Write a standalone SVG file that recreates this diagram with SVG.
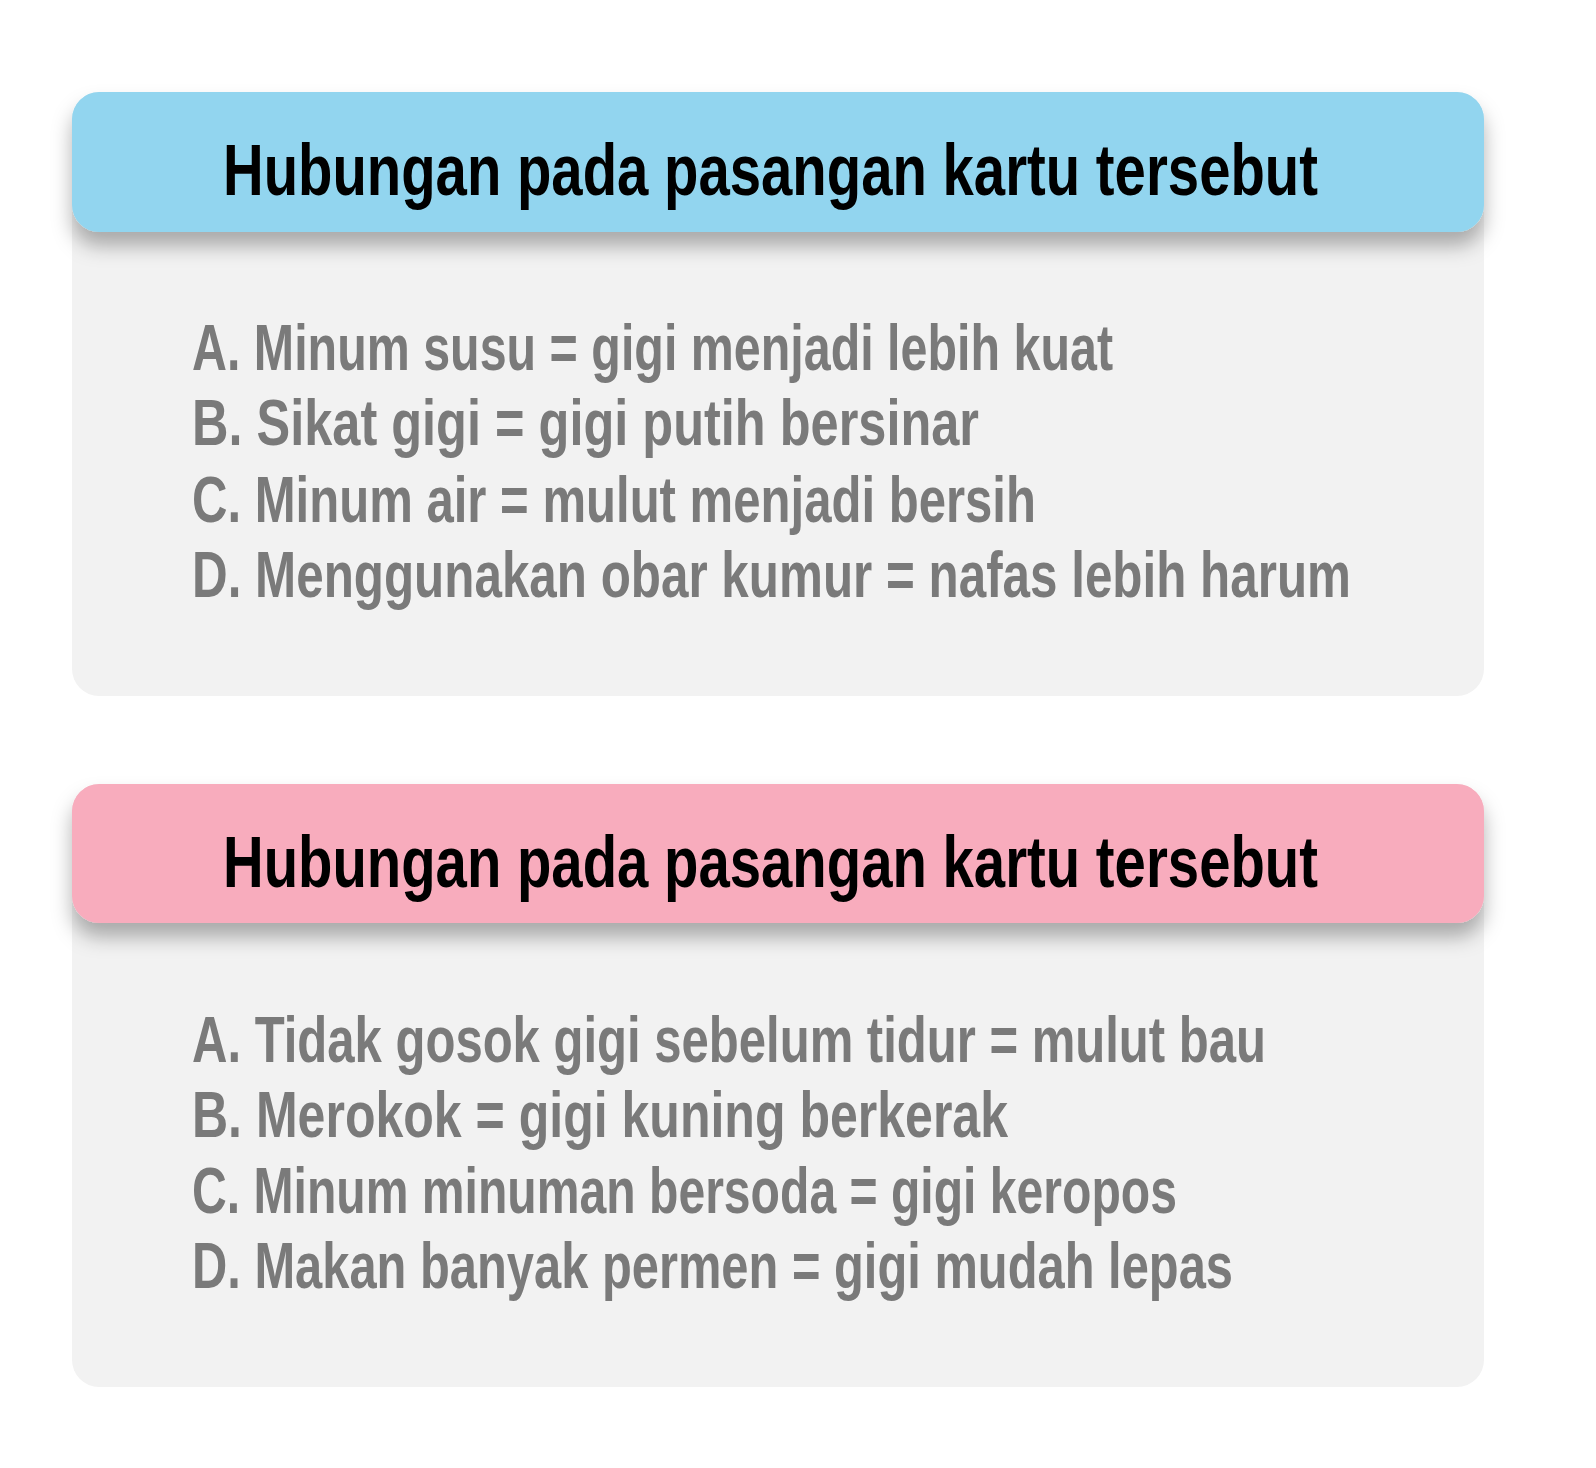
<svg xmlns="http://www.w3.org/2000/svg" width="1596" height="1468" viewBox="0 0 1596 1468">
  <defs>
    <filter id="shadow" x="-5%" y="-20%" width="110%" height="170%">
      <feDropShadow dx="0" dy="14" stdDeviation="10" flood-color="#000000" flood-opacity="0.3"/>
    </filter>
  </defs>
  <style>
    .card { fill: #F2F2F2; }
    .head-blue { fill: #92D5EF; }
    .head-pink { fill: #F8ACBD; }
    .title { font-family: "Liberation Sans", Arial, sans-serif; font-weight: bold; font-size: 72px; fill: #000000; }
    .item { font-family: "Liberation Sans", Arial, sans-serif; font-weight: bold; font-size: 65px; fill: #7A7A7A; }
  </style>
  <rect width="1596" height="1468" fill="#FFFFFF"/>

  <g id="card1">
    <rect class="card" x="72" y="92" width="1412" height="604" rx="27" ry="27"/>
    <rect class="head-blue" x="72" y="92" width="1412" height="140" rx="27" ry="27" filter="url(#shadow)"/>
    <g transform="scale(0.8,1)">
      <text class="title" x="278.75" y="195" textLength="1368.75" lengthAdjust="spacingAndGlyphs">Hubungan pada pasangan kartu tersebut</text>
    </g>
    <g transform="scale(0.78,1)">
      <text class="item" x="246.15" y="370" textLength="1180.8" lengthAdjust="spacingAndGlyphs">A. Minum susu = gigi menjadi lebih kuat</text>
      <text class="item" x="246.15" y="445" textLength="1009" lengthAdjust="spacingAndGlyphs">B. Sikat gigi = gigi putih bersinar</text>
      <text class="item" x="246.15" y="522" textLength="1082" lengthAdjust="spacingAndGlyphs">C. Minum air = mulut menjadi bersih</text>
      <text class="item" x="246.15" y="597" textLength="1485.9" lengthAdjust="spacingAndGlyphs">D. Menggunakan obar kumur = nafas lebih harum</text>
    </g>
  </g>

  <g id="card2">
    <rect class="card" x="72" y="784" width="1412" height="603" rx="27" ry="27"/>
    <rect class="head-pink" x="72" y="784" width="1412" height="139" rx="27" ry="27" filter="url(#shadow)"/>
    <g transform="scale(0.8,1)">
      <text class="title" x="278.75" y="887" textLength="1368.75" lengthAdjust="spacingAndGlyphs">Hubungan pada pasangan kartu tersebut</text>
    </g>
    <g transform="scale(0.78,1)">
      <text class="item" x="246.15" y="1062" textLength="1376.9" lengthAdjust="spacingAndGlyphs">A. Tidak gosok gigi sebelum tidur = mulut bau</text>
      <text class="item" x="246.15" y="1137" textLength="1046.2" lengthAdjust="spacingAndGlyphs">B. Merokok = gigi kuning berkerak</text>
      <text class="item" x="246.15" y="1213" textLength="1262.8" lengthAdjust="spacingAndGlyphs">C. Minum minuman bersoda = gigi keropos</text>
      <text class="item" x="246.15" y="1288" textLength="1334.6" lengthAdjust="spacingAndGlyphs">D. Makan banyak permen = gigi mudah lepas</text>
    </g>
  </g>

  <g id="connectors"></g>
</svg>
